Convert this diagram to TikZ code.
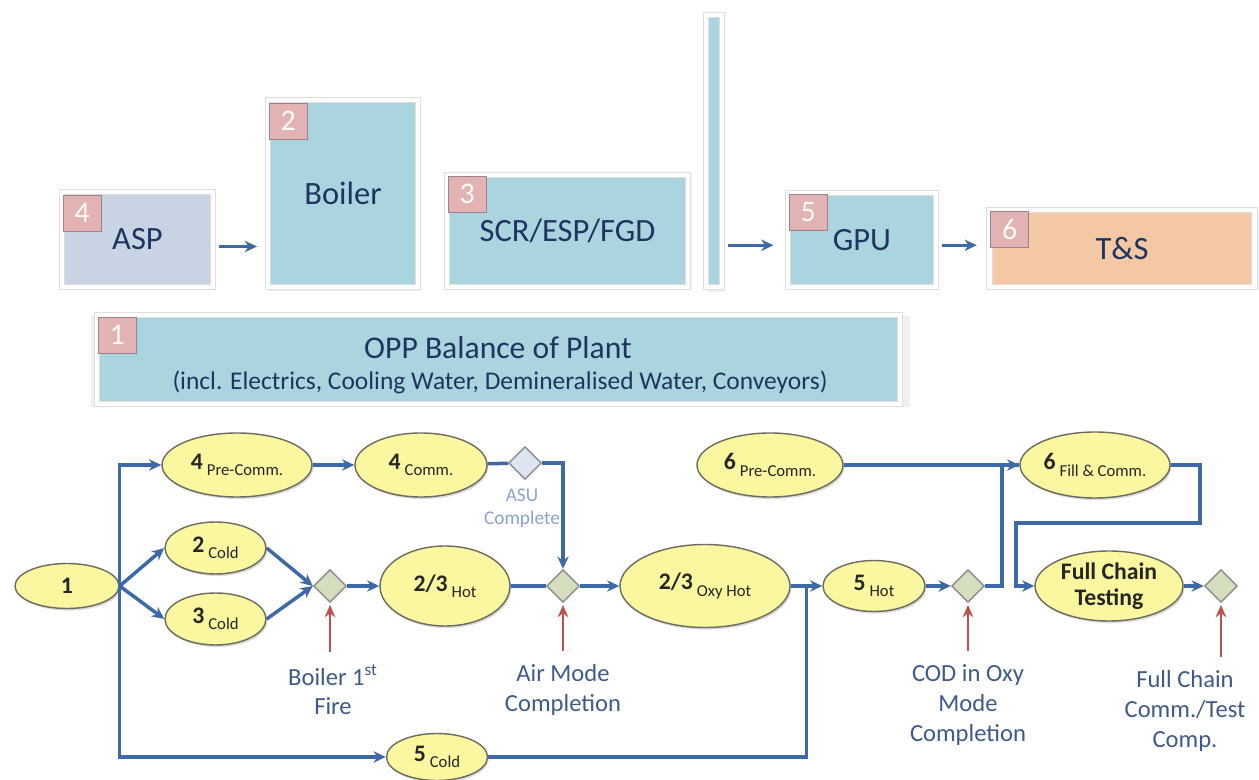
\documentclass[tikz,border=0pt]{standalone}
\usepackage{fontspec}
\setmainfont{Carlito}
\usetikzlibrary{arrows.meta,calc,shapes.geometric,shadows}

\definecolor{boxteal}{HTML}{ABD5DE}
\definecolor{boxlav}{HTML}{C8D4E4}
\definecolor{boxpeach}{HTML}{F5C8A5}
\definecolor{badgepink}{HTML}{E3B3B3}
\definecolor{badgeline}{HTML}{9C8090}
\definecolor{navytext}{HTML}{1F3561}
\definecolor{ellfill}{HTML}{FBF6A0}
\definecolor{ellline}{HTML}{6B6B5E}
\definecolor{gatefill}{HTML}{D6DFBD}
\definecolor{asufill}{HTML}{DDE5F2}
\definecolor{gateline}{HTML}{8C8C8C}
\definecolor{flowblue}{HTML}{3D6AA6}
\definecolor{markred}{HTML}{C0504D}
\definecolor{labelblue}{HTML}{3E5A88}
\definecolor{asublue}{HTML}{8AA3CC}

% small lowered text after the phase number
\newcommand{\phsub}[1]{\,\raisebox{-0.55ex}{\fontsize{9.5}{11}\selectfont #1}}

\begin{document}
\begin{tikzpicture}[x=0.02cm, y=-0.02cm, >=Stealth,
  topbox/.style={rectangle, draw=black!13, line width=0.5pt, double=white, double distance=2.6pt,
    inner sep=0pt, text=navytext, font=\fontsize{18.5}{22}\selectfont,
    drop shadow={shadow xshift=0.9pt, shadow yshift=-1.2pt, shadow scale=1.02, opacity=0.12}},
  badge/.style={rectangle, draw=badgeline, fill=badgepink, line width=0.7pt, inner sep=0pt,
    minimum width=0.76cm, minimum height=0.72cm, text=white!95!badgepink,
    font=\fontsize{17}{20}\selectfont, anchor=north west},
  phase/.style={ellipse, draw=ellline, fill=ellfill, line width=0.8pt, inner sep=0pt,
    align=center, text=black!85, font=\fontsize{13.5}{15}\selectfont,
    drop shadow={shadow xshift=0.8pt, shadow yshift=-1.2pt, opacity=0.3}},
  gate/.style={diamond, draw=gateline, fill=gatefill, line width=0.8pt,
    minimum size=0.66cm, inner sep=0pt},
  link/.style={draw=flowblue, line width=2pt},
  flow/.style={link, -{Stealth[length=7pt,width=6.5pt]}},
  redarrow/.style={draw=markred, line width=1.5pt, -{Stealth[length=7pt,width=6pt]}},
  mlabel/.style={align=center, text=labelblue, font=\fontsize{14}{17}\selectfont}]

\useasboundingbox (0,0) rectangle (1259,780);

% plant areas
\node[topbox, fill=boxlav, minimum width=3.02cm, minimum height=1.9cm] (asp) at (137.5,239.5) {ASP};
\node[topbox, fill=boxteal, minimum width=3cm, minimum height=3.74cm] (boiler) at (343,193.5) {Boiler};
\node[topbox, fill=boxteal, minimum width=4.82cm, minimum height=2.24cm] (scr) at (567.5,231) {\raisebox{-0.3ex}{SCR/ESP/FGD}};
\node[topbox, fill=boxteal, minimum width=0.32cm, minimum height=5.44cm] (stack) at (714,151) {};
\node[topbox, fill=boxteal, minimum width=2.96cm, minimum height=1.88cm] (gpu) at (862,240) {GPU};
\node[topbox, fill=boxpeach, minimum width=5.3cm, minimum height=1.54cm] (ts) at (1122,248.5) {T\&S};
\node[topbox, fill=boxteal, minimum width=16.06cm, minimum height=1.78cm] (opp) at (498.5,359.5) {};
\node[text=navytext, font=\fontsize{18}{20}\selectfont] (opptitle) at (498,348) {OPP Balance of Plant};
\node[text=navytext, font=\fontsize{14.5}{17}\selectfont] (oppsub) at (500,382)
  {(incl. Electrics, Cooling Water, Demineralised Water, Conveyors)};

\node[badge] (b4) at ([shift={(1,3)}]asp.north west) {4};
\node[badge] (b2) at ([shift={(1,3)}]boiler.north west) {2};
\node[badge] (b3) at ([shift={(1,1)}]scr.north west) {3};
\node[badge] (b5) at ([shift={(1,1)}]gpu.north west) {5};
\node[badge] (b6) at ([shift={(1,1)}]ts.north west) {6};
\node[badge] (b1) at ([shift={(1,2)}]opp.north west) {1};

\draw[flow, shorten <=3pt, shorten >=6pt] ([yshift=-4pt]asp.east) -- ([yshift=-4pt]asp.east -| boiler.west);
\draw[flow, shorten <=3pt, shorten >=8pt] ([yshift=-3pt]gpu.west -| stack.east) -- ([yshift=-3pt]gpu.west);
\draw[flow, shorten <=3pt, shorten >=7pt] ([yshift=-3pt]gpu.east) -- ([yshift=-3pt]gpu.east -| ts.west);

% commissioning sequence
\node[phase, minimum width=2.08cm, minimum height=0.9cm] (e1) at (67,586) {\textbf{1}};
\node[phase, minimum width=3cm, minimum height=1.28cm] (pre4) at (237,465) {\textbf{4}\phsub{Pre-Comm.}};
\node[phase, minimum width=2.64cm, minimum height=1.28cm] (comm4) at (421,465) {\textbf{4}\phsub{Comm.}};
\node[phase, minimum width=2.02cm, minimum height=1.04cm] (cold2) at (215.5,548) {\textbf{2}\phsub{Cold}};
\node[phase, minimum width=2.02cm, minimum height=1.04cm] (cold3) at (215.5,619) {\textbf{3}\phsub{Cold}};
\node[phase, minimum width=2.6cm, minimum height=1.6cm] (hot23) at (445,586) {\textbf{2/3}\phsub{Hot}};
\node[phase, minimum width=3.4cm, minimum height=1.66cm] (oxy23) at (705,586) {\textbf{2/3}\phsub{Oxy Hot}};
\node[phase, minimum width=2.04cm, minimum height=1.02cm] (hot5) at (874,586) {\textbf{5}\phsub{Hot}};
\node[phase, minimum width=2.02cm, minimum height=0.94cm] (cold5) at (437,757) {\textbf{5}\phsub{Cold}};
\node[phase, minimum width=2.92cm, minimum height=1.28cm] (pre6) at (770,465) {\textbf{6}\phsub{Pre-Comm.}};
\node[phase, minimum width=3cm, minimum height=1.32cm] (fill6) at (1095,465) {\textbf{6}\phsub{Fill \& Comm.}};
\node[phase, minimum width=2.96cm, minimum height=1.4cm] (fct) at (1109,586) {\textbf{Full Chain}\\\textbf{Testing}};

\node[gate] (d1) at (330,586) {};
\node[gate, fill=asufill] (asu) at (525,463) {};
\node[gate] (d2) at (563,586) {};
\node[gate] (d3) at (968,586) {};
\node[gate] (d4) at (1221,586) {};

\coordinate (j5) at ($(oxy23.east)!0.5!(hot5.west)$);
\coordinate (loopr) at (1200,523);
\coordinate (loopl) at (1016,586);

\draw[flow] (cold5.west -| e1.east) |- (pre4.west);
\draw[flow] (e1.east) |- (cold5.west);
\draw[flow] (e1.east) -- (cold2.west);
\draw[flow] (e1.east) -- (cold3.west);
\draw[flow] (pre4) -- (comm4);
\draw[link] (comm4) -- (asu);
\draw[flow] (asu.east) -| (d2.north);
\draw[flow] (cold2.east) -- (d1.west);
\draw[flow] (cold3.east) -- (d1.west);
\draw[flow] (d1) -- (hot23);
\draw[link] (hot23) -- (d2);
\draw[flow] (d2) -- (oxy23);
\draw[flow] (oxy23) -- (hot5);
\draw[link] (cold5.east) -| (j5);
\draw[flow] (hot5) -- (d3);
\draw[link] (pre6) -- (fill6);
\draw[flow] (d3.east) -- ++(17,0) |- (fill6.west);
\draw[flow] (fill6.east) -| (loopr) -| (loopl) -- (fct.west);
\draw[flow] (fct) -- (d4);

% milestones
\node[align=center, text=asublue, font=\fontsize{11}{13}\selectfont] (asul) at (522,508) {ASU\\Complete};
\node[mlabel] (l1) at (333,690) {Boiler 1\textsuperscript{st}\\Fire};
\node[mlabel] (l2) at (563,690) {Air Mode\\Completion};
\node[mlabel] (l3) at (968,705) {COD in Oxy\\Mode\\Completion};
\node[mlabel] (l4) at (1185,711) {Full Chain\\Comm./Test\\Comp.};

\draw[redarrow, shorten <=4pt, shorten >=1pt] (l1.north -| d1) -- (d1.south);
\draw[redarrow, shorten <=4pt, shorten >=1pt] (l2.north) -- (d2.south);
\draw[redarrow, shorten <=4pt, shorten >=1pt] (l3.north) -- (d3.south);
\draw[redarrow, shorten <=4pt, shorten >=1pt] (l4.north -| d4) -- (d4.south);

\end{tikzpicture}
\end{document}
